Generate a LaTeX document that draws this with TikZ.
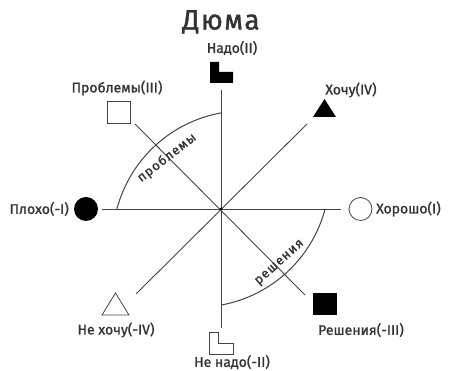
\documentclass[tikz,border=0pt]{standalone}
\usepackage{fontspec}
\setmainfont[FakeBold=1.2,AutoFakeBold=1.2]{Fira Sans}
\newfontfamily\lblfont[FakeBold=1.3]{Fira Sans}
\newfontfamily\spaced[LetterSpace=8,FakeBold=1.3]{Fira Sans}
\newfontfamily\titlefont[LetterSpace=5,FakeBold=1.2]{Fira Sans}
\usetikzlibrary{calc}
\definecolor{txt}{HTML}{333333}
\definecolor{ln}{HTML}{444444}
\begin{document}
\begin{tikzpicture}[x=1pt,y=1pt,
  lbl/.style={text=txt,font=\lblfont\fontsize{14}{16}\selectfont,inner sep=0pt},
  axis/.style={draw=ln,line width=0.9pt},
  arcline/.style={draw=ln,line width=1pt},
  arclbl/.style={text=txt,font=\spaced\fontsize{13}{15}\selectfont,inner sep=0pt},
  shapeline/.style={draw=ln,line width=0.8pt}]
\useasboundingbox (0,0) rectangle (450,371);
% centre and line ends
\coordinate (O) at (221,162);
\coordinate (L) at (102,162);
\coordinate (R) at (341,162);
\coordinate (T) at (221,281);
\coordinate (B) at (221,43);
\coordinate (NW) at (135,247);
\coordinate (NE) at (307,247);
\coordinate (SW) at (136,77);
\coordinate (SE) at (305,76);
\draw[axis] (L) -- (R);
\draw[axis] (T) -- (B);
\draw[axis] (NW) -- (SE);
\draw[axis] (NE) -- (SW);
\fill[black] (O) circle (1.5);
% arcs
\coordinate (cP) at (244.5,128.2);
\coordinate (cR) at (197.5,195.8);
\draw[arcline] ($(cP)+(165.15:132)$) arc[start angle=165.15,end angle=100.25,radius=132pt];
\draw[arcline] ($(cR)+(-14.85:132)$) arc[start angle=-14.85,end angle=-79.75,radius=132pt];
\node[arclbl,rotate=38] (tp) at (167,213) {проблемы};
\node[arclbl,rotate=42] (tr) at (280,108) {решения};
% title
\node[text=txt,font=\titlefont\fontsize{28}{32}\selectfont,inner sep=0pt] (title) at (221,349) {Дюма};
% shapes
\fill[black] (210,309) -- (219,309) -- (219,299) -- (233,299) -- (233,288) -- (210,288) -- cycle;
\draw[shapeline,fill=white] (209,39) -- (218,39) -- (218,28) -- (233,28) -- (233,17) -- (209,17) -- cycle;
\draw[shapeline,fill=white] (107,248) rectangle (130,270);
\fill[black] (313,56) rectangle (337,78);
\fill[black] (313,254) -- (336,254) -- (324.5,272) -- cycle;
\draw[shapeline,fill=white] (102,56) -- (129,56) -- (115.5,78) -- cycle;
\fill[black] (86,162) circle (12);
\draw[shapeline] (360.5,162) circle (11.5);
% labels
\node[lbl] (nado) at (232,323) {Надо(II)};
\node[lbl] (probl) at (117,283) {Проблемы(III)};
\node[lbl] (hochu) at (351,281) {Хочу(IV)};
\node[lbl,anchor=east] (ploho) at (69,162) {Плохо(-I)};
\node[lbl,anchor=west] (horosho) at (376,162) {Хорошо(I)};
\node[lbl] (nehochu) at (116,41) {Не хочу(-IV)};
\node[lbl] (resh) at (361,41) {Решения(-III)};
\node[lbl] (nenado) at (232,9) {Не надо(-II)};
\end{tikzpicture}
\end{document}
